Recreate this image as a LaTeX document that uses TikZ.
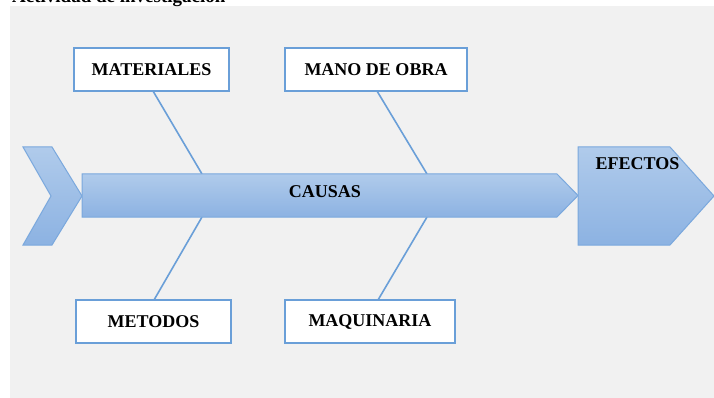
\documentclass[tikz,border=0pt]{standalone}
\usepackage{fontspec}
\setmainfont{Liberation Serif}
\definecolor{bgray}{HTML}{F1F1F1}
\definecolor{bline}{HTML}{6A9FD8}
\definecolor{btop}{HTML}{B0CBEB}
\definecolor{bbot}{HTML}{8CB2E2}
\definecolor{bedge}{HTML}{7AA8DD}
\begin{document}
\begin{tikzpicture}[x=1pt,y=-1pt,
  lbl/.style={font=\bfseries\fontsize{18}{20}\selectfont, text=black, inner sep=0pt},
  causebox/.style={draw=bline, line width=1.2pt, fill=white, minimum height=43pt, inner sep=0pt, font=\bfseries\fontsize{18}{20}\selectfont},
  bone/.style={draw=bline, line width=1.6pt},
  arrowshape/.style={draw=bedge, line width=1pt, top color=btop, bottom color=bbot}]
\useasboundingbox (0,0) rectangle (714,398);
\clip (0,0) rectangle (714,398);
\fill[bgray] (10,6) rectangle (714,398);
\node[anchor=base west, inner sep=0pt, font=\bfseries\fontsize{19}{20}\selectfont] (title) at (12,3) {Actividad de investigación};
% bones
\coordinate (b1) at (202,174);
\coordinate (b2) at (427,174);
\coordinate (b3) at (202,217);
\coordinate (b4) at (427,217);
\node[causebox, minimum width=155pt] (mat) at (151.5,69.5) {MATERIALES};
\node[causebox, minimum width=182pt] (mano) at (376,69.5) {MANO DE OBRA};
\node[causebox, minimum width=155pt] (met) at (153.5,321.5) {METODOS};
\node[causebox, minimum width=170pt] (maq) at (370,321.5) {MAQUINARIA};
\coordinate (s1) at (153,91);
\coordinate (s2) at (377,91);
\coordinate (s3) at (154,300);
\coordinate (s4) at (378,300);
\draw[bone] (s1) -- (b1);
\draw[bone] (s2) -- (b2);
\draw[bone] (s3) -- (b3);
\draw[bone] (s4) -- (b4);
% chevron
\path[arrowshape] (23,147) -- (52,147) -- (82,196) -- (52,245) -- (23,245) -- (51,196) -- cycle;
% main bar
\path[arrowshape] (82,174) -- (557,174) -- (578,195.5) -- (557,217) -- (82,217) -- cycle;
\node[lbl] (causas) at (325,192) {CAUSAS};
% efectos
\path[arrowshape] (578,147) -- (670,147) -- (714,196) -- (670,245) -- (578,245) -- cycle;
\node[lbl] (efectos) at (637.5,164) {EFECTOS};
\end{tikzpicture}
\end{document}
